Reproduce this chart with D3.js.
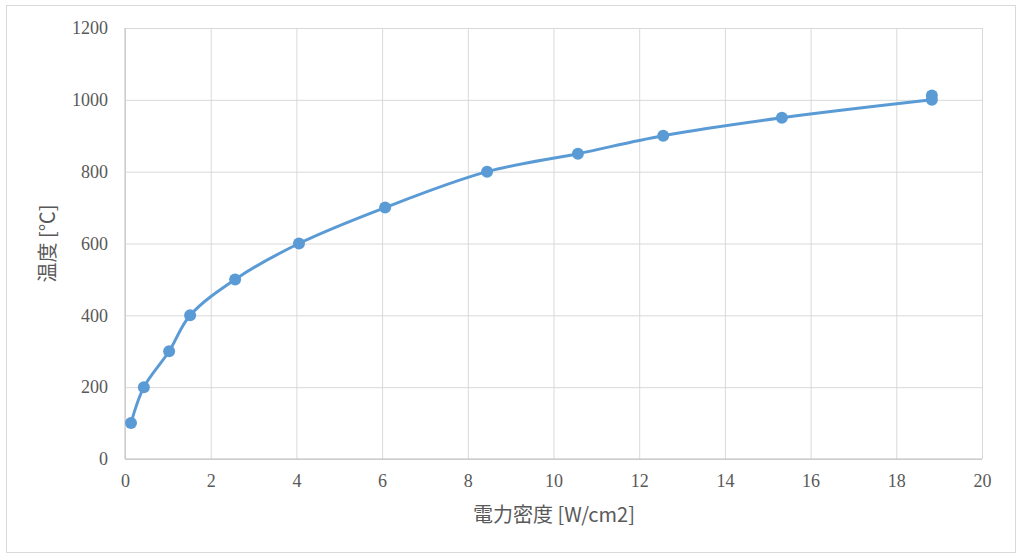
<!DOCTYPE html>
<html>
<head>
<meta charset="utf-8">
<script src="https://cdn.jsdelivr.net/npm/d3@7"></script>
<style>
  body { margin: 0; background: #fff; }
  text { fill: #595959; }
</style>
</head>
<body>
<div id="chart"></div>
<script>
// power density [W/cm2] vs temperature [°C]
var powerDensity = [0.14, 0.44, 1.03, 1.52, 2.57, 4.06, 6.07, 8.45, 10.57, 12.56, 15.33, 18.83, 18.83];
var temperature  = [100, 200, 300, 400, 500, 600, 700, 800, 850, 900, 950, 1000, 1012];
var xTicks = [0, 2, 4, 6, 8, 10, 12, 14, 16, 18, 20];
var yTicks = [0, 200, 400, 600, 800, 1000, 1200];
var xTitle = "電力密度 [W/cm2]";
var yTitle = "温度 [℃]";

var width = 1021, height = 556;
var plotLeft = 125, plotRight = 982, plotTop = 28, plotBottom = 459;

var points = powerDensity.map(function(d, i) { return { x: d, y: temperature[i] }; });

var x = d3.scaleLinear().domain([0, 20]).range([plotLeft, plotRight]);
var y = d3.scaleLinear().domain([0, 1200]).range([plotBottom, plotTop]);

var svg = d3.select("#chart")
            .append("svg")
            .attr("width", width)
            .attr("height", height);

// outer frame
svg.append("rect")
   .attr("x", 6.5).attr("y", 5.5)
   .attr("width", 1009).attr("height", 547)
   .attr("fill", "#fff")
   .attr("stroke", "#d9d9d9");

var numFont = "'Liberation Serif', 'DejaVu Serif', serif";

// gridlines + axes
var xAxis = d3.axisBottom(x).tickValues(xTicks).tickFormat(d3.format("d"))
              .tickSize(-(plotBottom - plotTop)).tickPadding(15);
var gx = svg.append("g").attr("transform", "translate(0," + plotBottom + ")").call(xAxis);
gx.attr("font-family", numFont).attr("font-size", 18);
gx.select(".domain").remove();
gx.selectAll("line").attr("stroke", "#d9d9d9");
gx.selectAll("text").attr("fill", "#595959");

var yAxis = d3.axisLeft(y).tickValues(yTicks).tickFormat(d3.format("d"))
              .tickSize(-(plotRight - plotLeft)).tickPadding(17);
var gy = svg.append("g").attr("transform", "translate(" + plotLeft + ",0)").call(yAxis);
gy.attr("font-family", numFont).attr("font-size", 18);
gy.select(".domain").remove();
gy.selectAll("line").attr("stroke", "#d9d9d9");
gy.selectAll("text").attr("fill", "#595959");

// axis lines slightly darker
svg.append("line").attr("x1", plotLeft).attr("x2", plotRight).attr("y1", plotBottom).attr("y2", plotBottom)
   .attr("stroke", "#bfbfbf");
svg.append("line").attr("x1", plotLeft).attr("x2", plotLeft).attr("y1", plotTop).attr("y2", plotBottom)
   .attr("stroke", "#bfbfbf");

// smoothed line
var line = d3.line()
             .x(function(d) { return x(d.x); })
             .y(function(d) { return y(d.y); })
             .curve(d3.curveCatmullRom.alpha(0.5));

svg.append("path")
   .datum(points.slice(0, points.length - 1))
   .attr("d", line)
   .attr("fill", "none")
   .attr("stroke", "#5b9bd5")
   .attr("stroke-width", 3)
   .attr("stroke-linecap", "round");

svg.selectAll("circle.pt")
   .data(points)
   .enter()
   .append("circle")
   .attr("class", "pt")
   .attr("cx", function(d) { return x(d.x); })
   .attr("cy", function(d) { return y(d.y); })
   .attr("r", 6)
   .attr("fill", "#5b9bd5");

// axis titles
var cjkFont = "'Noto Sans CJK JP', serif";
svg.append("text")
   .attr("x", 554)
   .attr("y", 522)
   .attr("text-anchor", "middle")
   .attr("font-family", cjkFont)
   .attr("font-size", 20)
   .text(xTitle);

svg.append("text")
   .attr("transform", "translate(55," + ((plotTop + plotBottom) / 2) + ") rotate(-90)")
   .attr("text-anchor", "middle")
   .attr("font-family", cjkFont)
   .attr("font-size", 20)
   .text(yTitle);
</script>
</body>
</html>
